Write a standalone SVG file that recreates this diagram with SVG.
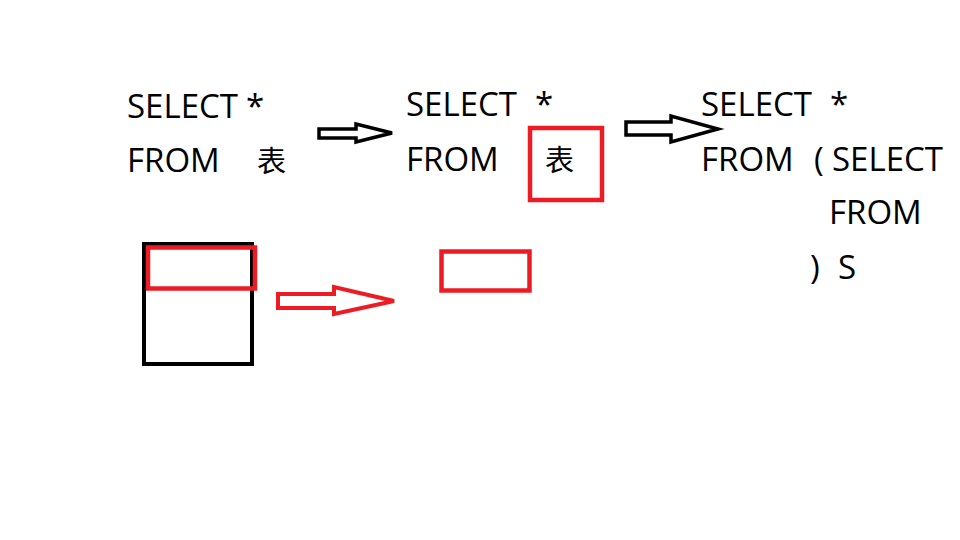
<svg xmlns="http://www.w3.org/2000/svg" width="960" height="540" viewBox="0 0 960 540">
<style>
.t{font-family:"Open Sans","Noto Sans CJK SC",sans-serif;font-size:33px;fill:#000}
.cjk{font-family:"Noto Sans CJK SC","Noto Sans CJK JP",sans-serif;font-size:29px;fill:#000}
.red{fill:none;stroke:#ED1C24;stroke-width:4.5}
.blk{fill:none;stroke:#000;stroke-width:4}
.arr-b{fill:#fff;stroke:#000;stroke-width:3.5;stroke-linejoin:miter}
.arr-r{fill:#fff;stroke:#ED1C24;stroke-width:4;stroke-linejoin:miter}
</style>
<rect width="960" height="540" fill="#fff"/>
<g id="query1">
<text class="t" x="127" y="118">SELECT</text>
<text class="t" x="246" y="118">*</text>
<text class="t" x="127" y="172">FROM</text>
<text class="cjk" x="257" y="172">表</text>
</g>
<g id="query2">
<text class="t" x="406" y="116">SELECT</text>
<text class="t" x="535" y="116">*</text>
<text class="t" x="406" y="171">FROM</text>
<text class="cjk" x="545" y="171">表</text>
<rect class="red" x="530" y="128" width="72" height="72"/>
</g>
<g id="query3">
<text class="t" x="701" y="116">SELECT</text>
<text class="t" x="830" y="116">*</text>
<text class="t" x="701" y="171">FROM</text>
<text class="t" x="814" y="171">(</text>
<text class="t" x="832" y="171">SELECT</text>
<text class="t" x="829" y="224">FROM</text>
<text class="t" x="810" y="279">)</text>
<text class="t" x="838" y="279">S</text>
</g>
<g id="table">
<rect class="blk" x="144" y="244" width="108" height="120"/>
<rect class="red" x="148" y="247.5" width="107" height="41"/>
</g>
<g id="subset">
<rect class="red" x="441.5" y="251.5" width="88" height="39"/>
</g>
<g id="connectors">
<polygon class="arr-b" points="319,129 356,129 356,124 392,133 356,142 356,138 319,138"/>
<polygon class="arr-b" points="626,122 671,122 671,116 718,129 671,142 671,135 626,135"/>
<polygon class="arr-r" points="278,294 334,294 334,287 394,301 334,314 334,308 278,308"/>
</g>
</svg>
